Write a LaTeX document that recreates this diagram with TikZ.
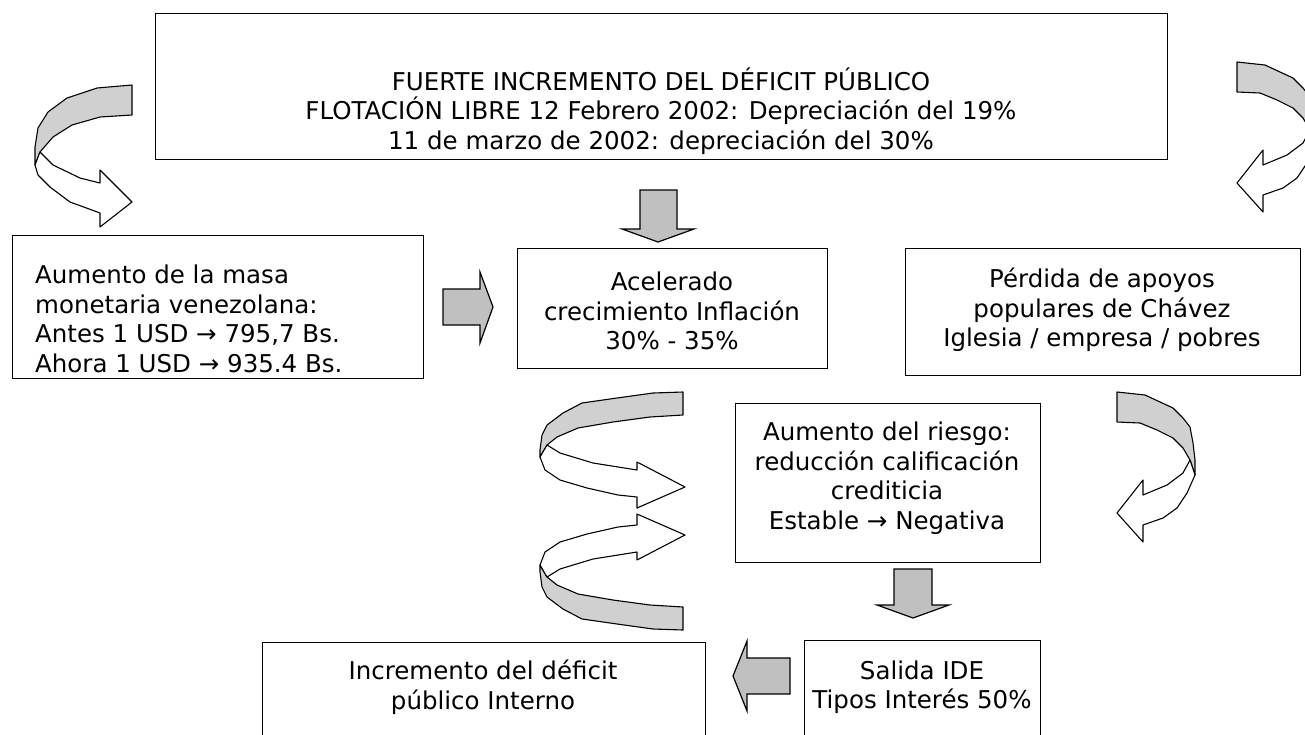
\documentclass[tikz,border=0pt]{standalone}
\usepackage{fontspec}
\setmainfont{DejaVu Sans}
\definecolor{arrowgray}{RGB}{192,192,192}
\definecolor{bandgray}{RGB}{208,208,208}
\begin{document}
\begin{tikzpicture}[x=1pt,y=-1pt,
  box/.style={draw, line width=1.4pt, rectangle, inner sep=0pt, anchor=north west},
  txt/.style={align=center, inner sep=0pt, font=\fontsize{24.5}{29.5}\selectfont},
  blk/.style={draw, line width=1.2pt, fill=arrowgray, line join=miter},
  band/.style={draw, line width=1.1pt, fill=bandgray, line join=round},
  wband/.style={draw, line width=1.1pt, fill=white, line join=round}]
\useasboundingbox (0,0) rectangle (1305,734);
\clip (0,0) rectangle (1305,734);
\fill[white] (0,0) rectangle (1305,734);

% boxes
\node[box, minimum width=1012pt, minimum height=146pt] (top) at (155,13) {};
\node[box, minimum width=411pt, minimum height=143pt] (A) at (12,235) {};
\node[box, minimum width=310pt, minimum height=120pt] (B) at (517,248) {};
\node[box, minimum width=395pt, minimum height=127pt] (C) at (905,248) {};
\node[box, minimum width=305pt, minimum height=159pt] (D) at (735,403) {};
\node[box, minimum width=236pt, minimum height=110pt] (E) at (804,640) {};
\node[box, minimum width=443pt, minimum height=110pt] (F) at (262,642) {};

% texts
\node[txt] (ttop) at (661,111) {FUERTE INCREMENTO DEL DÉFICIT PÚBLICO\\FLOTACIÓN LIBRE 12 Febrero 2002: Depreciación del 19\%\\11 de marzo de 2002: depreciación del 30\%};
\node[txt, align=left, anchor=west] (tA) at (35,319) {Aumento de la masa\\monetaria venezolana:\\Antes 1 USD → 795,7 Bs.\\Ahora 1 USD → 935.4 Bs.};
\node[txt] (tB) at (672,311) {Acelerado\\crecimiento Inflación\\30\% - 35\%};
\node[txt] (tC) at (1102,310) {Pérdida de apoyos\\populares de Chávez\\Iglesia / empresa / pobres};
\node[txt] (tD) at (887,478) {Aumento del riesgo:\\reducción calificación\\crediticia\\Estable → Negativa};
\node[txt] (tE) at (922,687) {Salida IDE\\Tipos Interés 50\%};
\node[txt] (tF) at (483,687) {Incremento del déficit\\público Interno};

% straight block arrows
\draw[blk] (443,289) -- (480,289) -- (480,272) -- (493,307) -- (480,343) -- (480,325) -- (443,325) -- cycle;
\draw[blk] (640,190) -- (677,190) -- (677,229) -- (694,229) -- (658,242) -- (622,229) -- (640,229) -- cycle;
\draw[blk] (894,569) -- (932,569) -- (932,605) -- (949,605) -- (913,618) -- (877,605) -- (894,605) -- cycle;
\draw[blk] (790,658) -- (747,658) -- (747,641) -- (733,676) -- (747,711) -- (747,694) -- (790,694) -- cycle;

% curved arrow top-left
\draw[band] (132,85) -- (97,88) -- (67,98) -- (48,112) -- (38,128) -- (35,147) -- (35,165) -- (40,152) -- (53,137) -- (72,125) -- (100,117) -- (132,115) -- cycle;
\draw[wband] (40,152) -- (53,165) -- (80,178) -- (100,183) -- (100,170) -- (132,202) -- (100,227) -- (100,213) -- (70,202) -- (50,187) -- (38,175) -- (35,165) -- cycle;

% curved arrows right (same shape, two places)
\foreach \sx/\sy in {1117/392, 1237/62}{
\begin{scope}[shift={(\sx,\sy)}]
\draw[band] (0,0) -- (28,3) -- (43,10) -- (56,16) -- (66,26) -- (73,35) -- (76,51) -- (78,68) -- (78,83) -- (73,68) -- (66,56) -- (56,46) -- (40,38) -- (23,31) -- (0,30) -- cycle;
\draw[wband] (73,68) -- (66,81) -- (50,93) -- (26,103) -- (26,88) -- (0,121) -- (26,150) -- (26,133) -- (46,126) -- (60,116) -- (70,101) -- (78,83) -- cycle;
\end{scope}}

% curved arrows middle-left (upper)
\draw[band] (683,392) -- (653,393) -- (617,398) -- (582,403) -- (563,413) -- (547,425) -- (542,435) -- (540,450) -- (540,457) -- (547,445) -- (557,437) -- (578,428) -- (613,422) -- (650,417) -- (683,415) -- cycle;
\draw[wband] (547,445) -- (560,453) -- (593,463) -- (637,470) -- (637,462) -- (685,487) -- (637,508) -- (637,497) -- (618,495) -- (587,488) -- (560,480) -- (545,470) -- (540,457) -- cycle;
% (lower)
\draw[band] (683,630) -- (653,629) -- (617,624) -- (582,619) -- (563,609) -- (547,597) -- (542,587) -- (540,572) -- (540,565) -- (547,577) -- (557,585) -- (578,594) -- (613,600) -- (650,605) -- (683,607) -- cycle;
\draw[wband] (547,577) -- (560,569) -- (593,559) -- (637,552) -- (637,560) -- (685,535) -- (637,514) -- (637,525) -- (618,527) -- (587,534) -- (560,542) -- (545,552) -- (540,565) -- cycle;
\end{tikzpicture}
\end{document}
